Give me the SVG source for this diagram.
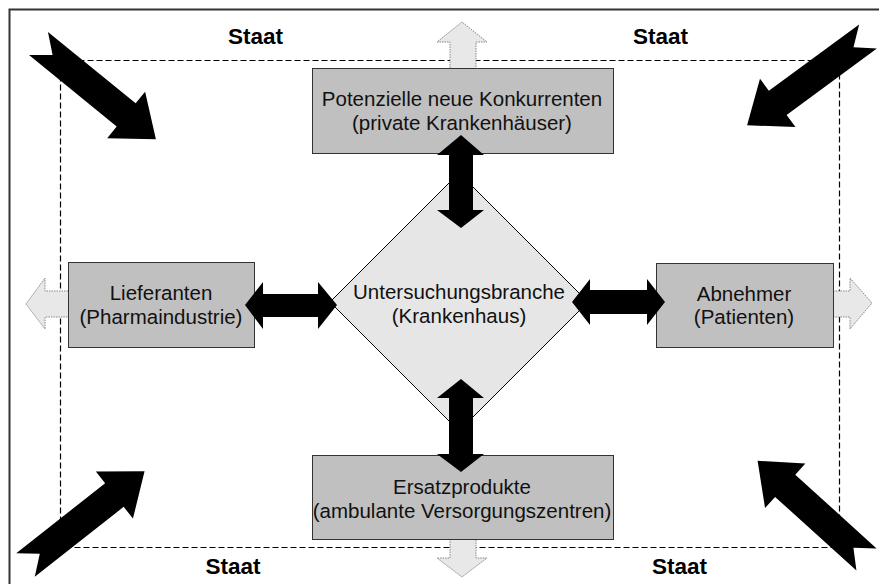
<svg xmlns="http://www.w3.org/2000/svg" xmlns:xlink="http://www.w3.org/1999/xlink" width="879" height="584" viewBox="0 0 879 584">
<style>
.box{fill:#c0c0c0;stroke:#333;stroke-width:1}
.dia{fill:#e6e6e6;stroke:#000;stroke-width:1}
.light{fill:#e8e8e8;stroke:#888;stroke-width:1;stroke-dasharray:1.5,1}
.blk{fill:#000}
.t{font-family:"Liberation Sans",Arial,sans-serif;font-size:20.5px;fill:#111;text-anchor:middle}
.s{font-family:"Liberation Sans",Arial,sans-serif;font-size:22.5px;font-weight:bold;fill:#000;text-anchor:middle}
</style>
<defs>
<path id="big" d="M0,-15 L112,-15 L112,-30 L150,0 L112,30 L112,15 L0,15 L18,0 Z"/>
</defs>
<rect x="0" y="0" width="879" height="584" fill="#fff"/>
<rect x="9.5" y="9.5" width="880" height="590" fill="none" stroke="#333" stroke-width="2"/>
<rect id="frame" x="60.5" y="60.5" width="779" height="487" fill="none" stroke="#000" stroke-width="1.2" stroke-dasharray="6,3"/>
<g id="connectors">
<path class="light" d="M450,68 L450,42 L437,42 L462,22 L487,42 L476,42 L476,68"/>
<path class="light" d="M450,539 L450,558 L437,558 L462,577 L487,558 L476,558 L476,539"/>
<path class="light" d="M68,291 L45,291 L45,278 L26,304 L45,329 L45,317 L68,317"/>
<path class="light" d="M833,291 L850,291 L850,278 L872,303 L850,329 L850,317 L833,317"/>
</g>
<g id="node-top"><rect class="box" x="312.5" y="68.5" width="301" height="85"/>
<text class="t" x="462" y="106">Potenzielle neue Konkurrenten</text>
<text class="t" x="462" y="130">(private Krankenhäuser)</text></g>
<g id="node-bottom"><rect class="box" x="312.5" y="455.5" width="301" height="84"/>
<text class="t" x="462" y="494">Ersatzprodukte</text>
<text class="t" x="462" y="518">(ambulante Versorgungszentren)</text></g>
<g id="node-left"><rect class="box" x="68.5" y="262.5" width="186" height="85"/>
<text class="t" x="161" y="300">Lieferanten</text>
<text class="t" x="161" y="324">(Pharmaindustrie)</text></g>
<g id="node-right"><rect class="box" x="656.5" y="263.5" width="177" height="84"/>
<text class="t" x="744" y="301">Abnehmer</text>
<text class="t" x="744" y="324">(Patienten)</text></g>
<g id="node-center"><path class="dia" d="M459,173 L588,302 L459,431 L330,302 Z"/>
<text class="t" x="459" y="299">Untersuchungsbranche</text>
<text class="t" x="459" y="323">(Krankenhaus)</text></g>
<g id="double-arrows">
<path class="blk" d="M461,135 L484,155 L473,155 L473,210 L484,210 L461,228 L437,210 L449,210 L449,155 L437,155 Z"/>
<path class="blk" d="M461,379 L484,398 L473,398 L473,454 L484,454 L461,472 L437,454 L449,454 L449,398 L437,398 Z"/>
<path class="blk" d="M245,305 L263,282 L263,294 L318,294 L318,282 L337,305 L318,329 L318,317 L263,317 L263,329 Z"/>
<path class="blk" d="M572,302 L590,279 L590,290 L647,290 L647,279 L665,302 L647,325 L647,314 L590,314 L590,325 Z"/>
</g>
<g id="staat">
<use xlink:href="#big" href="#big" class="blk" transform="translate(38.5,43.5) rotate(39.2) scale(1.01,1)"/>
<use xlink:href="#big" href="#big" class="blk" transform="translate(868,36.5) rotate(143.7)"/>
<use xlink:href="#big" href="#big" class="blk" transform="translate(25.5,565) rotate(-38.2) scale(1.01,1)"/>
<use xlink:href="#big" href="#big" class="blk" transform="translate(866.5,559.5) rotate(-137.8) scale(0.98,1)"/>
<text class="s" x="255.5" y="44">Staat</text>
<text class="s" x="660.5" y="44">Staat</text>
<text class="s" x="233" y="574">Staat</text>
<text class="s" x="679.5" y="574">Staat</text>
</g>
</svg>
